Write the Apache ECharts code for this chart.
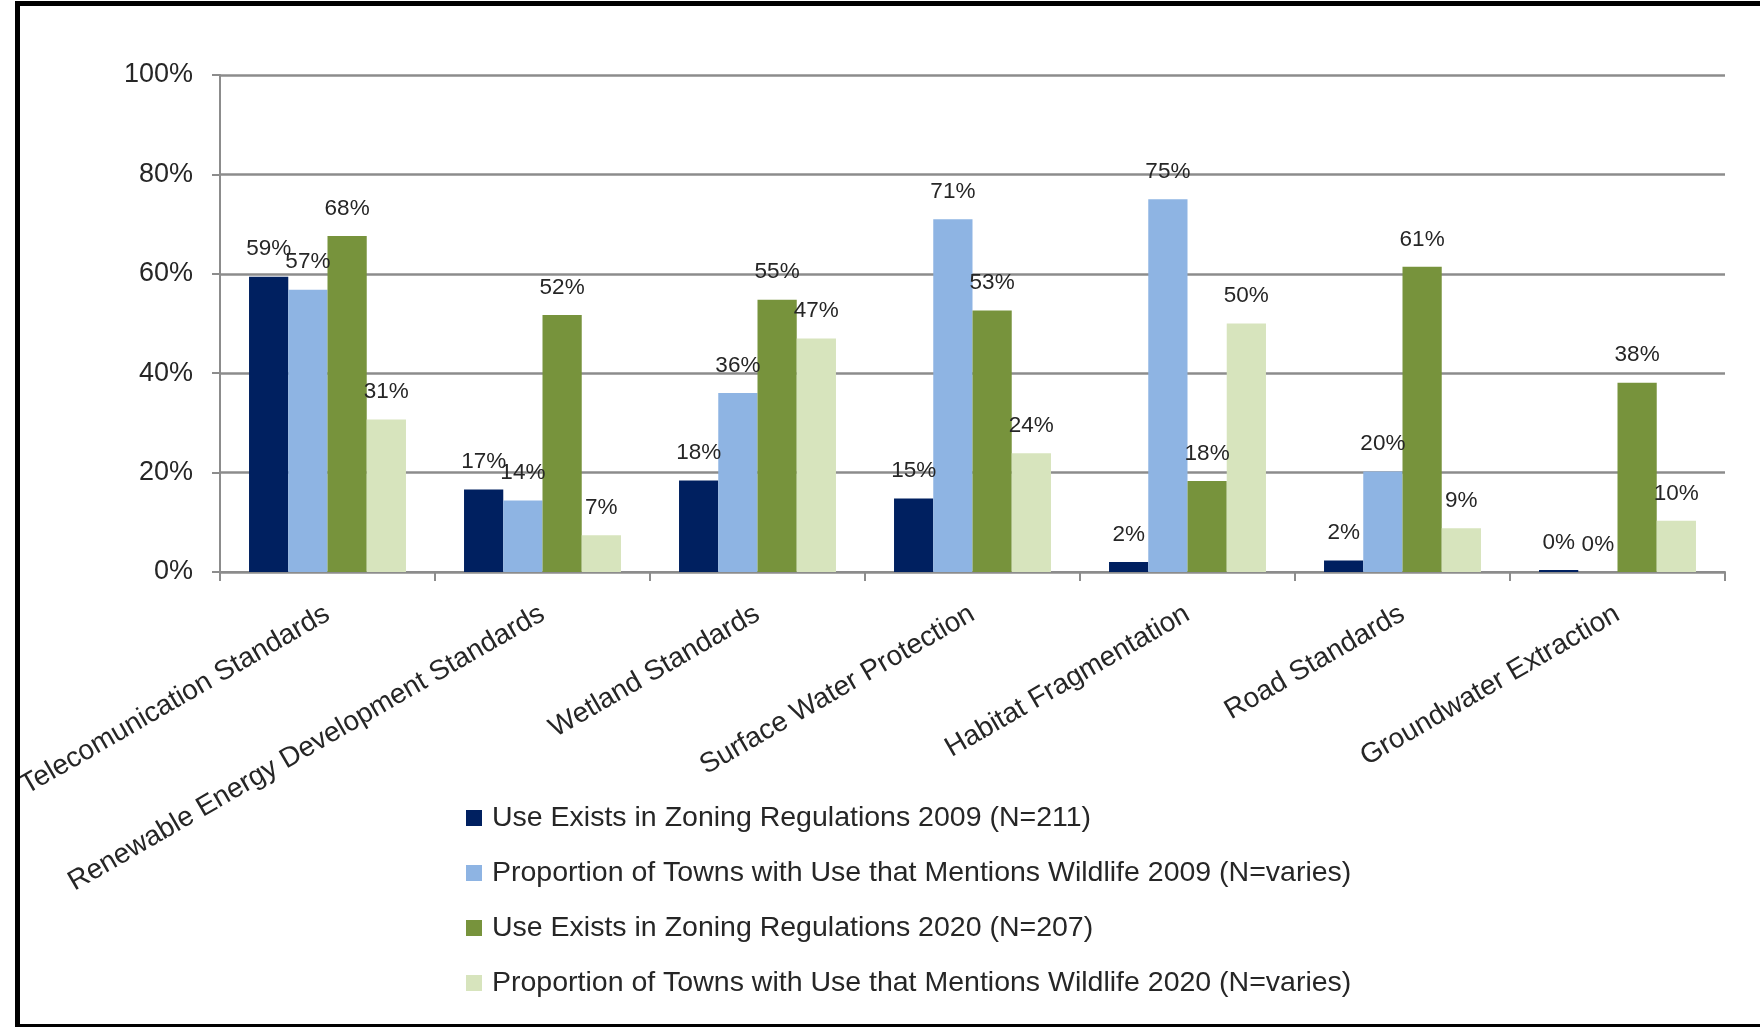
<!DOCTYPE html>
<html>
<head>
<meta charset="utf-8">
<script src="https://cdn.jsdelivr.net/npm/echarts@6/dist/echarts.min.js"></script>
<style>
  html, body { margin: 0; padding: 0; background: #fff; overflow: hidden; }
  #chart { position: absolute; left: 0; top: 0; width: 1760px; height: 1027px; }
  #frame { position: absolute; left: 15px; top: 1px; width: 2000px; height: 1018px; border: 5px solid #000; pointer-events: none; }
</style>
</head>
<body>
<div id="chart"></div>
<div id="frame"></div>
<script>
const categories = [
  'Telecomunication Standards',
  'Renewable Energy Development Standards',
  'Wetland Standards',
  'Surface Water Protection',
  'Habitat Fragmentation',
  'Road Standards',
  'Groundwater Extraction'
];
const seriesNames = [
  'Use Exists in Zoning Regulations 2009 (N=211)',
  'Proportion of Towns with Use that Mentions Wildlife 2009 (N=varies)',
  'Use Exists in Zoning Regulations 2020 (N=207)',
  'Proportion of Towns with Use that Mentions Wildlife 2020 (N=varies)'
];
const use2009      = [59.4, 16.6, 18.4, 14.8, 2.0, 2.3, 0.4];
const wildlife2009 = [56.8, 14.4, 36.0, 71.0, 75.0, 20.2, 0];
const use2020      = [67.6, 51.7, 54.8, 52.6, 18.3, 61.4, 38.1];
const wildlife2020 = [30.7, 7.4, 47.0, 23.9, 50.0, 8.8, 10.3];
const yTicks = [0, 20, 40, 60, 80, 100];

const colors = ['#002060', '#8EB4E3', '#77933C', '#D7E4BD'];
const FONT = '"Liberation Sans", Arial, sans-serif';
const TEXT = '#262626';

const chart = echarts.init(document.getElementById('chart'), null, { renderer: 'canvas' });
const allValues = [use2009, wildlife2009, use2020, wildlife2020];

chart.setOption({
  animation: false,
  textStyle: { fontFamily: FONT },
  grid: { left: 220, right: 35, top: 75, bottom: 455, containLabel: false },
  legend: {
    orient: 'vertical',
    left: 461,
    top: 798,
    itemWidth: 16,
    itemHeight: 16,
    itemGap: 25,
    icon: 'rect',
    data: seriesNames,
    textStyle: { fontFamily: FONT, fontSize: 28.5, color: TEXT, lineHeight: 30, padding: [0, 0, 0, 5] }
  },
  xAxis: {
    type: 'category',
    data: categories,
    axisLine: { lineStyle: { color: '#8C8C8C', width: 2 } },
    axisTick: { show: true, length: 9, alignWithLabel: false, lineStyle: { color: '#8C8C8C', width: 2 } },
    axisLabel: { rotate: 30, interval: 0, margin: 40, fontFamily: FONT, fontSize: 28, color: TEXT }
  },
  yAxis: {
    type: 'value',
    min: 0,
    max: 100,
    interval: 20,
    axisLine: { show: true, lineStyle: { color: '#8C8C8C', width: 2 } },
    axisTick: { show: true, length: 8, lineStyle: { color: '#8C8C8C', width: 2 } },
    splitLine: { show: true, lineStyle: { color: '#8C8C8C', width: 2.5 } },
    axisLabel: {
      margin: 27,
      fontFamily: FONT, fontSize: 27, color: TEXT,
      formatter: v => (yTicks.includes(v) ? v + '%' : '')
    }
  },
  series: seriesNames.map((name, i) => ({
    name,
    type: 'bar',
    data: allValues[i],
    barGap: '0%',
    barCategoryGap: '27%',
    itemStyle: { color: colors[i] },
    label: {
      show: true,
      position: 'top',
      distance: 16,
      fontFamily: FONT,
      fontSize: 22.5,
      color: TEXT,
      formatter: p => Math.round(p.value) + '%'
    }
  }))
});
</script>
</body>
</html>
